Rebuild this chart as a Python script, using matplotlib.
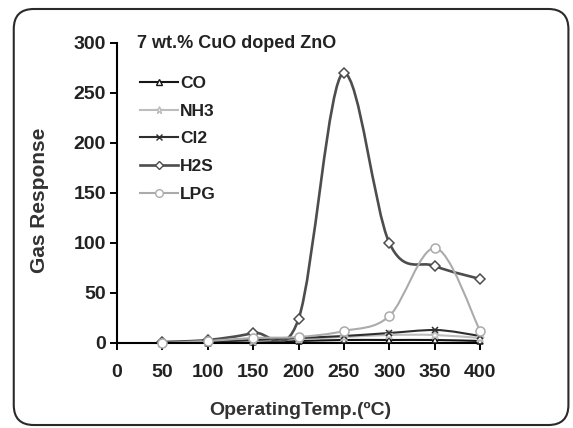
import numpy as np
import matplotlib.pyplot as plt
from matplotlib.path import Path
from matplotlib.patches import PathPatch, FancyBboxPatch
from matplotlib.lines import Line2D

plt.rcParams['font.family'] = ['Liberation Sans', 'DejaVu Sans']

temps = [50, 100, 150, 200, 250, 300, 350, 400]
co = [0, 0, 1, 2, 3, 3, 3, 2]
nh3 = [0, 1, 2, 4, 6, 8, 8, 5]
cl2 = [0, 1, 3, 5, 7, 10, 13, 7]
h2s = [1, 3, 10, 24, 270, 100, 77, 64]
lpg = [0, 2, 5, 6, 12, 27, 95, 12]

names = ["CO", "NH3", "Cl2", "H2S", "LPG"]
values = [co, nh3, cl2, h2s, lpg]
colors = ["#151515", "#bdbdbd", "#2e2e2e", "#4d4d4d", "#ababab"]
markers = ["^", "*", "x", "D", "o"]


def smooth_path(x, y):
    # smoothed line like excel: bezier segments, tangents flattened at peaks
    pts = np.column_stack([x, y]).astype(float)
    n = len(pts)
    tang = []
    for i in range(n):
        a = pts[max(i - 1, 0)]
        b = pts[min(i + 1, n - 1)]
        t = (b - a) / 6.0
        if 0 < i < n - 1 and (pts[i, 1] - a[1]) * (b[1] - pts[i, 1]) < 0:
            t[1] = 0.0
        tang.append(t)
    verts = [pts[0]]
    codes = [Path.MOVETO]
    for i in range(n - 1):
        verts += [pts[i] + tang[i], pts[i + 1] - tang[i + 1], pts[i + 1]]
        codes += [Path.CURVE4] * 3
    return Path(verts, codes)


fig = plt.figure(figsize=(5.73, 4.28), dpi=100)

# rounded border round the chart
frame = FancyBboxPatch((0.024, 0.007), 0.968, 0.972,
                       boxstyle="round,pad=0,rounding_size=0.035", mutation_aspect=573 / 428,
                       transform=fig.transFigure, fill=False, edgecolor="#2a2a2a", linewidth=1.5)
fig.patches.append(frame)

ax = fig.add_axes([0.204, 0.1986, 0.634, 0.701])
ax.set_xlim(0, 400)
ax.set_ylim(0, 300)

handles = []
for name, vals, col, mk in zip(names, values, colors, markers):
    lw = 1.9 if name == "H2S" else 1.5
    ax.add_patch(PathPatch(smooth_path(temps, vals), fill=False, edgecolor=col, linewidth=lw, zorder=2))
    ms = 6.5 if mk in ("o", "*") else 5
    ax.plot(temps, vals, linestyle="none", marker=mk, markersize=ms, markerfacecolor="white",
            markeredgecolor=col, markeredgewidth=1.1, zorder=3, clip_on=False)
    handles.append(Line2D([], [], color=col, linewidth=lw, marker=mk, markersize=ms - 1,
                          markerfacecolor="white", markeredgecolor=col, markeredgewidth=1.0))

ax.spines['top'].set_visible(False)
ax.spines['right'].set_visible(False)
ax.spines['left'].set_linewidth(1.5)
ax.spines['bottom'].set_linewidth(1.5)
ax.set_xticks(np.arange(0, 401, 50))
ax.set_yticks(np.arange(0, 301, 50))
ax.tick_params(axis='both', direction='out', length=5, width=1.4, labelsize=14)
ax.tick_params(axis='y', pad=3)
ax.tick_params(axis='x', pad=10)
for lab in ax.get_xticklabels() + ax.get_yticklabels():
    lab.set_fontweight('bold')
    lab.set_color('#222222')

fig.text(40 / 573, 1 - 200 / 428, "Gas Response", rotation=90, ha='center', va='center',
         fontsize=15, fontweight='bold', color='#333333')
fig.text(300 / 573, 1 - 410 / 428, "OperatingTemp.(ºC)", ha='center', va='center',
         fontsize=14, fontweight='bold', color='#333333')
fig.text(137 / 573, 1 - 43 / 428, "7 wt.% CuO doped ZnO", ha='left', va='center',
         fontsize=13, fontweight='bold', color='#222222')

leg = fig.legend(handles, names, loc='upper left', bbox_to_anchor=(140 / 573, 1 - 76 / 428),
                 frameon=False, borderpad=0, borderaxespad=0, handlelength=2.2,
                 handletextpad=0.12, labelspacing=0.72, prop={'weight': 'bold', 'size': 12.5})
for t in leg.get_texts():
    t.set_color('#222222')

fig.savefig("out.png", dpi=100)
